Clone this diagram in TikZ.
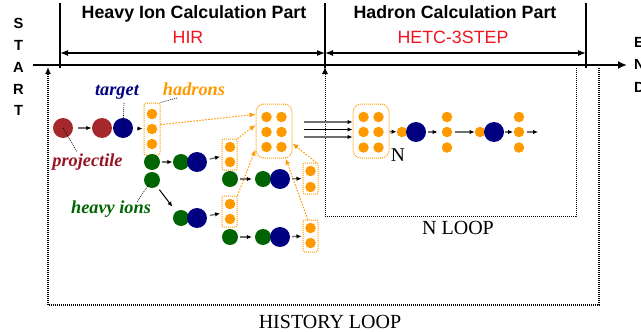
\documentclass[tikz,border=0pt]{standalone}
\usepackage{fontspec}
\setmainfont{Liberation Serif}
\newfontfamily\arial{Liberation Sans}
\usetikzlibrary{arrows.meta}
\definecolor{projred}{RGB}{165,40,45}
\definecolor{projlab}{RGB}{150,20,35}
\definecolor{navy}{RGB}{0,0,128}
\definecolor{dgreen}{RGB}{0,100,0}
\definecolor{orng}{RGB}{255,153,0}
\definecolor{shaft}{RGB}{110,110,110}
\definecolor{hred}{RGB}{240,20,30}
\tikzset{
 ball/.style={circle, inner sep=0pt, draw=none},
 rball/.style={ball, fill=projred, minimum size=20pt},
 bball/.style={ball, fill=navy, minimum size=20pt},
 gball/.style={ball, fill=dgreen, minimum size=16pt},
 oball/.style={ball, fill=orng, minimum size=10.5pt},
 obox/.style={draw=orng, line width=1pt, dash pattern=on 1pt off 1pt, rounded corners=2pt, inner sep=0pt},
 bigbox/.style={obox, rounded corners=8pt, minimum width=36pt, minimum height=54pt},
 smallbox/.style={obox, minimum width=15pt, minimum height=31pt},
 parr/.style={draw=shaft, line width=1.3pt, -{Latex[length=5pt,width=4.5pt,color=black]}},
 oarr/.style={draw=orng, line width=1pt, dash pattern=on 1.5pt off 1.5pt, -{Latex[length=6pt,width=5pt]}},
 lead/.style={draw=black, line width=0.6pt, dash pattern=on 1pt off 1pt},
 lab/.style={font=\fontsize{18.3}{20}\selectfont\bfseries\itshape, anchor=base},
 head/.style={font=\arial\fontsize{17.8}{20}\selectfont\bfseries, anchor=base},
 sub/.style={font=\arial\fontsize{17.8}{20}\selectfont, text=hred, anchor=base},
 letter/.style={font=\arial\fontsize{14.7}{16}\selectfont\bfseries, anchor=base},
 looplab/.style={font=\fontsize{20}{22}\selectfont, anchor=base},
 dbl/.style={line width=1.3pt, {Latex[length=8pt,width=6pt]}-{Latex[length=8pt,width=6pt]}},
 tick/.style={line width=1.2pt},
 hist/.style={line width=1.8pt, dash pattern=on 1pt off 1pt},
 nloop/.style={line width=0.9pt, dash pattern=on 0.9pt off 1.1pt},
}
\begin{document}
\begin{tikzpicture}[x=1pt,y=-1pt]
\useasboundingbox (0,0) rectangle (641,332);

% START / END letters
\node[letter] (s1) at (18.5,28.3) {S};
\node[letter] (s2) at (18.5,50.3) {T};
\node[letter] (s3) at (18.5,72.5) {A};
\node[letter] (s4) at (18.5,94.7) {R};
\node[letter] (s5) at (18.5,115.5) {T};
\node[letter, anchor=base west] (e1) at (630.5,48) {E};
\node[letter, anchor=base west] (e2) at (630.5,70) {N};
\node[letter, anchor=base west] (e3) at (630.5,92) {D};

% axis and ticks
\coordinate (ax0) at (33,65);
\coordinate (ax1) at (627,65);
\draw[line width=2pt, -{Latex[length=9pt,width=8pt]}] (ax0) -- (ax1);
\coordinate (k1t) at (60,3);   \coordinate (k1b) at (60,68);
\coordinate (k2t) at (325,3);  \coordinate (k2b) at (325,68);
\coordinate (k3t) at (586,3);  \coordinate (k3b) at (586,68);
\draw[tick] (k1t) -- (k1b);
\draw[tick] (k2t) -- (k2b);
\draw[tick] (k3t) -- (k3b);
\coordinate (d1) at (60,53); \coordinate (d2) at (325,53); \coordinate (d3) at (586,53);
\draw[dbl] (d1) -- (d2);
\draw[dbl] (d2) -- (d3);

% headings
\node[head] (h1) at (194,18.3) {Heavy Ion Calculation Part};
\node[sub] (h1s) at (188,43.3) {HIR};
\node[head] (h2) at (455,18.3) {Hadron Calculation Part};
\node[sub] (h2s) at (453,43.3) {HETC-3STEP};

% loops
\coordinate (hr) at (599,68); \coordinate (hb0) at (48,305); \coordinate (hl) at (48,67);
\draw[hist, -{Latex[length=7pt,width=6pt]}] (hr) |- (hb0) -- (hl);
\coordinate (nr) at (576,68); \coordinate (nb0) at (325,216); \coordinate (nl) at (325,67);
\draw[nloop, -{Latex[length=7pt,width=6pt]}] (nr) |- (nb0) -- (nl);
\node[looplab] (hist) at (330,328) {HISTORY LOOP};
\node[looplab] (nloopl) at (458,234) {N LOOP};

% row 1
\node[rball] (p0) at (63,128) {};
\node[rball] (p1) at (102,128) {};
\node[bball] (t1) at (123,128) {};
\node[obox, minimum width=16pt, minimum height=52pt] (hb) at (152,129) {};
\node[oball] (hb1) at (152,114) {};
\node[oball] (hb2) at (152,129) {};
\node[oball] (hb3) at (152,144) {};
\draw[parr, shorten <=5pt, shorten >=0.5pt] (p0) -- (p1);
\draw[parr, shorten <=4pt, shorten >=1pt] (t1) -- (hb);

% heavy ions
\node[gball] (g1) at (152,162) {};
\node[gball] (g2) at (152,180) {};

% row 2
\node[gball] (g3) at (181,162) {};
\node[bball] (b3) at (197,162) {};
\node[smallbox] (B1) at (229.5,154.5) {};
\node[oball] (B1a) at (230,147) {};
\node[oball] (B1b) at (230,162) {};
\draw[parr, shorten <=2pt, shorten >=0.5pt] (g1) -- (g3);
\draw[parr, shorten <=3pt, shorten >=1.5pt] (b3) -- (B1);

% row 3
\node[gball] (g4) at (230,179) {};
\node[gball] (g6) at (263,179) {};
\node[bball] (b6) at (280,179) {};
\node[smallbox] (B3) at (310.5,178.5) {};
\node[oball] (B3a) at (310.5,171) {};
\node[oball] (B3b) at (310.5,187) {};
\draw[parr, shorten <=2pt, shorten >=3pt] (g4) -- (g6);
\draw[parr, shorten <=2pt, shorten >=1pt] (b6) -- (B3);

% row 4
\node[gball] (g5) at (181,218) {};
\node[bball] (b5) at (197,218) {};
\node[smallbox] (B2) at (229.5,211.5) {};
\node[oball] (B2a) at (230,204) {};
\node[oball] (B2b) at (230,219) {};
\draw[line width=1pt, -{Latex[length=5pt,width=4.5pt]}, shorten <=4pt, shorten >=6pt] (g2) -- (g5);
\draw[parr, shorten <=3pt, shorten >=1.5pt] (b5) -- (B2);

% row 5
\node[gball] (g7) at (230,237) {};
\node[gball] (g8) at (263,237) {};
\node[bball] (b8) at (280,237) {};
\node[obox, minimum width=15pt, minimum height=32pt] (B4) at (310.5,236) {};
\node[oball] (B4a) at (310.5,228) {};
\node[oball] (B4b) at (310.5,243) {};
\draw[parr, shorten <=2pt, shorten >=3pt] (g7) -- (g8);
\draw[parr, shorten <=2pt, shorten >=1pt] (b8) -- (B4);

% big hadron box
\node[bigbox] (BB) at (274,131) {};
\foreach \i/\x in {1/266.5,2/281.5}{
  \foreach \j/\y in {1/117,2/132,3/147}{
    \node[oball] (BB\i\j) at (\x,\y) {};
  }
}
\draw[oarr] (hb.27) -- (BB.138);
\draw[oarr] (B1.north east) -- (BB.162);
\draw[oarr] (B2.north east) -- (BB.225);
\draw[oarr] (B3.70) -- (BB.326);
\draw[oarr] (B4.99) -- (BB.293);

% N box
\node[bigbox] (NB) at (371,131) {};
\foreach \i/\x in {1/363.5,2/378.5}{
  \foreach \j/\y in {1/117,2/132,3/147.5}{
    \node[oball] (NB\i\j) at (\x,\y) {};
  }
}
\coordinate (l1) at (304,122);
\coordinate (l2) at (304,129.5);
\coordinate (l3) at (304,137);
\draw[draw=shaft, line width=1.5pt, -{Latex[length=5pt,width=4.5pt,color=black]}] (l1) -- (l1 -| NB.west);
\draw[draw=black, line width=1pt, -{Latex[length=5pt,width=4.5pt,color=black]}] (l2) -- (l2 -| NB.west);
\draw[draw=shaft, line width=1.5pt, -{Latex[length=5pt,width=4.5pt,color=black]}] (l3) -- (l3 -| NB.west);
\node[looplab, font=\fontsize{19.5}{22}\selectfont] (nlab) at (398,161) {N};

\node[oball] (o1) at (402,132) {};
\node[bball] (n1) at (416,132) {};
\node[oball] (c21) at (447,117) {};
\node[oball] (c22) at (447,132) {};
\node[oball] (c23) at (447,147.5) {};
\node[oball] (o2) at (480,132) {};
\node[bball] (n2) at (494,132) {};
\node[oball] (c31) at (519,117) {};
\node[oball] (c32) at (519,132) {};
\node[oball] (c33) at (519,147.5) {};
\coordinate (fin) at (538,132);
\draw[parr] (NB) -- (o1);
\draw[parr, shorten <=2pt, shorten >=4pt] (n1) -- (c22);
\draw[parr, shorten <=3pt] (c22) -- (o2);
\draw[parr, shorten <=1pt, shorten >=0.5pt] (n2) -- (c32);
\draw[parr, shorten <=3pt] (c32) -- (fin);

% labels and leaders
\node[lab, text=navy] (tlab) at (117,95) {target};
\node[lab, text=orng] (hlab) at (194,95) {hadrons};
\node[lab, text=projlab] (plab) at (87.5,166.5) {projectile};
\node[lab, text=dgreen] (glab) at (111,213) {heavy ions};
\coordinate (tl) at (124,103);
\draw[lead] (tl) -- (t1.center);
\coordinate (hl0) at (177,98);
\draw[lead] (hl0) -- (hb.north east);
\coordinate (pl) at (77,152);
\draw[lead] (p0.center) -- (pl);
\coordinate (gl) at (137,202);
\coordinate (gl2) at (149,184);
\draw[lead] (gl) -- (gl2);
\end{tikzpicture}
\end{document}
